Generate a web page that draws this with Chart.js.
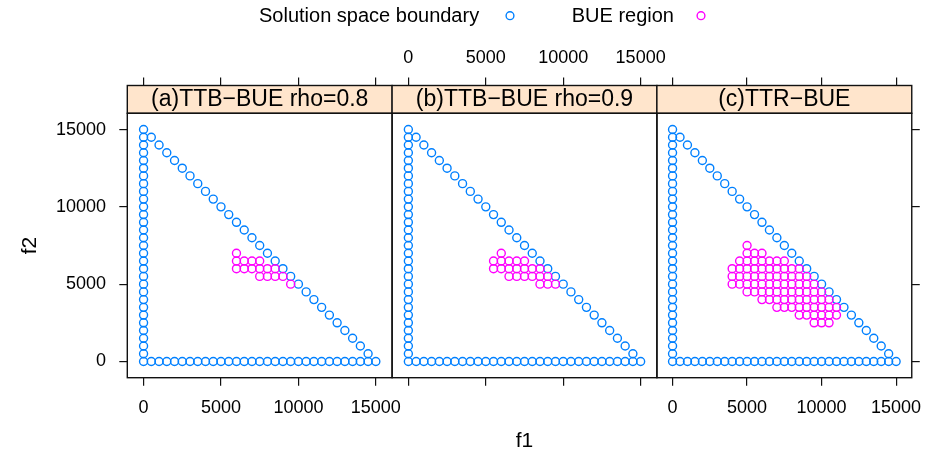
<!DOCTYPE html>
<html><head><meta charset="utf-8">
<script src="https://cdn.jsdelivr.net/npm/chart.js@4.4.1/dist/chart.umd.min.js"></script>
<style>
html,body{margin:0;padding:0;background:#fff;}
#wrap{position:relative;width:934px;height:458px;background:#fff;}
#wrap canvas{position:absolute;left:0;top:0;}
</style></head><body>
<div id="wrap">
<canvas id="ca" width="934" height="458"></canvas>
<canvas id="cb" width="934" height="458"></canvas>
<canvas id="cc" width="934" height="458"></canvas>
</div>
<script>
// ---------- data ----------
const panelTitles = ['(a)TTB\u2212BUE rho=0.8', '(b)TTB\u2212BUE rho=0.9', '(c)TTR\u2212BUE'];
const seriesNames = ['Solution space boundary', 'BUE region'];
const axisTitles = { x: 'f1', y: 'f2' };
const tickValues = [0, 5000, 10000, 15000];
const axisMin = -1050, axisMax = 16050;

const boundaryF1 = [
  0,0,0,0,0,0,0,0,0,0, 0,0,0,0,0,0,0,0,0,0, 0,0,0,0,0,0,0,0,0,0, 0,
  500,1000,1500,2000,2500,3000,3500,4000,4500,5000,5500,6000,6500,7000,7500,
  8000,8500,9000,9500,10000,10500,11000,11500,12000,12500,13000,13500,14000,14500,15000,
  500,1000,1500,2000,2500,3000,3500,4000,4500,5000,5500,6000,6500,7000,7500,
  8000,8500,9000,9500,10000,10500,11000,11500,12000,12500,13000,13500,14000,14500
];
const boundaryF2 = [
  0,500,1000,1500,2000,2500,3000,3500,4000,4500,5000,5500,6000,6500,7000,7500,
  8000,8500,9000,9500,10000,10500,11000,11500,12000,12500,13000,13500,14000,14500,15000,
  0,0,0,0,0,0,0,0,0,0, 0,0,0,0,0,0,0,0,0,0, 0,0,0,0,0,0,0,0,0,0,
  14500,14000,13500,13000,12500,12000,11500,11000,10500,10000,9500,9000,8500,8000,7500,
  7000,6500,6000,5500,5000,4500,4000,3500,3000,2500,2000,1500,1000,500
];

const bueA_F1 = [6000, 6000,6500,7000,7500, 6000,6500,7000,7500,8000,8500, 7500,8000,8500,9000, 9500];
const bueA_F2 = [7000, 6500,6500,6500,6500, 6000,6000,6000,6000,6000,6000, 5500,5500,5500,5500, 5000];

const bueB_F1 = [6000, 5500,6000,6500,7000,7500, 5500,6000,6500,7000,7500,8000,8500,
                 6500,7000,7500,8000,8500,9000, 8500,9000,9500];
const bueB_F2 = [7000, 6500,6500,6500,6500,6500, 6000,6000,6000,6000,6000,6000,6000,
                 5500,5500,5500,5500,5500,5500, 5000,5000,5000];

const bueC_F1 = [
  5000,
  5000,5500,6000,
  4500,5000,5500,6000,6500,7000,7500,
  4000,4500,5000,5500,6000,6500,7000,7500,8000,8500,
  4000,4500,5000,5500,6000,6500,7000,7500,8000,8500,9000,
  4000,4500,5000,5500,6000,6500,7000,7500,8000,8500,9000,9500,
  5000,5500,6000,6500,7000,7500,8000,8500,9000,9500,10000,
  6000,6500,7000,7500,8000,8500,9000,9500,10000,10500,
  7000,7500,8000,8500,9000,9500,10000,10500,11000,
  8500,9000,9500,10000,10500,11000,
  9500,10000,10500
];
const bueC_F2 = [
  7500,
  7000,7000,7000,
  6500,6500,6500,6500,6500,6500,6500,
  6000,6000,6000,6000,6000,6000,6000,6000,6000,6000,
  5500,5500,5500,5500,5500,5500,5500,5500,5500,5500,5500,
  5000,5000,5000,5000,5000,5000,5000,5000,5000,5000,5000,5000,
  4500,4500,4500,4500,4500,4500,4500,4500,4500,4500,4500,
  4000,4000,4000,4000,4000,4000,4000,4000,4000,4000,
  3500,3500,3500,3500,3500,3500,3500,3500,3500,
  3000,3000,3000,3000,3000,3000,
  2500,2500,2500
];

// ---------- layout / style ----------
const FONT = "'Liberation Sans', Arial, Helvetica, sans-serif";
const GEOM = { left: 127.3, panelW: 264.8, stripTop: 85.5, plotTop: 113.3, plotBottom: 377.7, W: 934, H: 458 };
const COLORS = { boundary: '#0080ff', bue: '#ff00ff', strip: '#ffe5cc', frame: '#111111', text: '#000000' };

const toPoints = (xs, ys) => xs.map((v, k) => ({ x: v, y: ys[k] }));

function tickAxis(position, o) {
  return {
    type: 'linear', position: position, min: axisMin, max: axisMax,
    display: o.show,
    afterBuildTicks: s => { s.ticks = tickValues.map(v => ({ value: v })); },
    afterFit: s => { if (s.isHorizontal()) s.height = o.size; else s.width = o.size; },
    grid: { display: true, drawOnChartArea: false, drawTicks: true, tickLength: 8, color: COLORS.frame, lineWidth: 1.2 },
    border: { display: false },
    ticks: { display: o.labels, padding: o.pad, color: COLORS.text, font: { family: FONT, size: 18 },
             callback: v => String(v), maxRotation: 0, minRotation: 0, autoSkip: false },
    title: o.title ? { display: true, text: o.title, color: COLORS.text, font: { family: FONT, size: 21 }, padding: 0 }
                   : { display: false }
  };
}

function panelPlugin(i) {
  return {
    id: 'panel' + i,
    afterLayout(chart) {
      // top axis sits above the strip (lattice style)
      const s = chart.scales.x2;
      s.top = 0; s.bottom = GEOM.stripTop;
    },
    afterDraw(chart) {
      const ctx = chart.ctx, a = chart.chartArea;
      ctx.save();
      ctx.fillStyle = COLORS.strip;
      ctx.fillRect(a.left, GEOM.stripTop, a.right - a.left, a.top - GEOM.stripTop);
      ctx.strokeStyle = COLORS.frame; ctx.lineWidth = 1.4;
      ctx.strokeRect(a.left, GEOM.stripTop, a.right - a.left, a.top - GEOM.stripTop);
      ctx.strokeRect(a.left, a.top, a.right - a.left, a.bottom - a.top);
      ctx.fillStyle = COLORS.text; ctx.font = '23px ' + FONT;
      ctx.textAlign = 'center'; ctx.textBaseline = 'middle';
      ctx.fillText(panelTitles[i], (a.left + a.right) / 2, (GEOM.stripTop + a.top) / 2 + 0.5);
      if (i === 0) {
        // key at the top
        const ds = chart.data.datasets;
        ctx.font = '20px ' + FONT; ctx.textAlign = 'left';
        ctx.fillText(seriesNames[0], 259, 16.7);
        ctx.fillText(seriesNames[1], 571.7, 16.7);
        ctx.lineWidth = 1.4;
        ctx.strokeStyle = ds[1].borderColor;
        ctx.beginPath(); ctx.arc(510, 15.7, 3.9, 0, Math.PI * 2); ctx.stroke();
        ctx.strokeStyle = ds[0].borderColor;
        ctx.beginPath(); ctx.arc(701, 15.7, 3.9, 0, Math.PI * 2); ctx.stroke();
      }
      ctx.restore();
    }
  };
}

function makePanel(id, i, bF1, bF2) {
  const L = GEOM.left + i * GEOM.panelW, R = L + GEOM.panelW;
  const leftW = i === 0 ? 109.9 : 0;
  const bottomH = i === 1 ? 75.9 : 60;
  const pointStyle = c => ({ borderColor: c, backgroundColor: 'rgba(0,0,0,0)', pointRadius: 4.0,
                             pointBorderWidth: 1.4, pointStyle: 'circle', showLine: false, xAxisID: 'x', yAxisID: 'y' });
  return new Chart(document.getElementById(id), {
    type: 'scatter',
    data: { datasets: [
      Object.assign({ label: seriesNames[1], data: toPoints(bF1, bF2), order: 0 }, pointStyle(COLORS.bue)),
      Object.assign({ label: seriesNames[0], data: toPoints(boundaryF1, boundaryF2), order: 1 }, pointStyle(COLORS.boundary))
    ]},
    options: {
      responsive: false, animation: false, events: [],
      layout: { padding: { left: L - leftW, right: GEOM.W - R, top: GEOM.plotTop,
                           bottom: GEOM.H - GEOM.plotBottom - bottomH } },
      plugins: { legend: { display: false }, tooltip: { enabled: false }, title: { display: false } },
      scales: {
        x:  tickAxis('bottom', { show: true, labels: i !== 1, size: bottomH, pad: 11.5, title: i === 1 ? axisTitles.x : null }),
        x2: tickAxis('top',    { show: true, labels: i === 1, size: 0, pad: 8.7 }),
        y:  tickAxis('left',   { show: i === 0, labels: true, size: leftW, pad: 13.3, title: i === 0 ? axisTitles.y : null }),
        y2: tickAxis('right',  { show: i === 2, labels: false, size: 0, pad: 0 })
      }
    },
    plugins: [panelPlugin(i)]
  });
}

makePanel('ca', 0, bueA_F1, bueA_F2);
makePanel('cb', 1, bueB_F1, bueB_F2);
makePanel('cc', 2, bueC_F1, bueC_F2);
</script>
</body></html>
